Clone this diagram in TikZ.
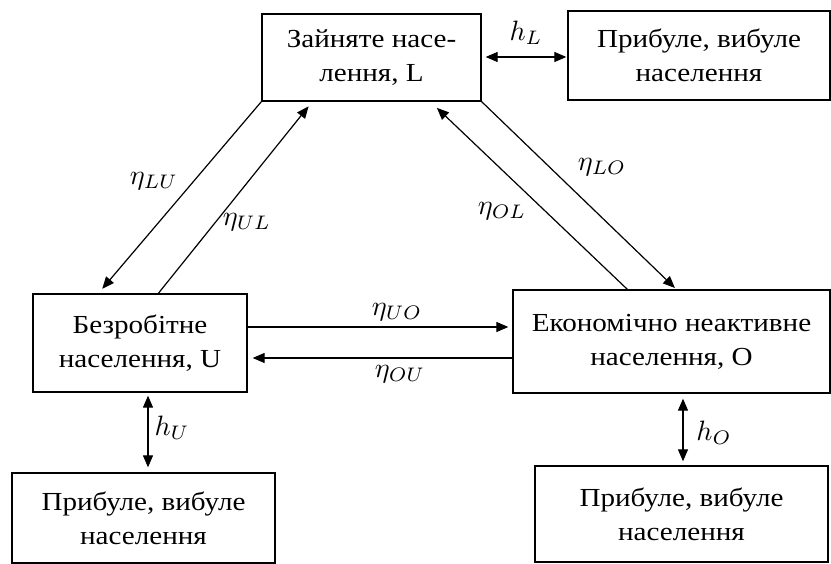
\documentclass[tikz,border=0pt]{standalone}
\usepackage{fontspec}
\setmainfont{Liberation Serif}[FakeStretch=1.12]
\usetikzlibrary{arrows.meta,calc}
\newcommand{\biglbl}[1]{\scalebox{2.8}{$#1$}}
\begin{document}
\begin{tikzpicture}[x=1pt,y=-1pt,
  box/.style={draw,line width=1.3pt,inner sep=0pt,align=center,font=\fontsize{26}{34}\selectfont},
  arr/.style={line width=1.2pt,-{Triangle[length=12pt,width=10pt]}},
  dbl/.style={line width=1.2pt,{Triangle[length=12pt,width=10pt]}-{Triangle[length=12pt,width=10pt]}},
  lbl/.style={inner sep=0pt}]
\useasboundingbox (0,0) rectangle (831,564);
% boxes
\node[box,minimum width=219pt,minimum height=87pt] (L) at (371.5,57.5) {Зайняте насе-\\лення, L};
\node[box,minimum width=262pt,minimum height=89pt] (RT) at (699,55.5) {Прибуле, вибуле\\населення};
\node[box,minimum width=214pt,minimum height=98pt] (U) at (140,343) {Безробітне\\населення, U};
\node[box,minimum width=317pt,minimum height=103pt] (O) at (671.5,341.5) {Економічно неактивне\\населення, O};
\node[box,minimum width=263pt,minimum height=90pt] (BL) at (143.5,518) {Прибуле, вибуле\\населення};
\node[box,minimum width=293pt,minimum height=96pt] (BR) at (681.5,514) {Прибуле, вибуле\\населення};
% diagonal connectors
\draw[arr,shorten >=6pt] (L.south west) -- ($(U.north west)+(66,0)$);
\draw[arr,shorten >=6pt] ($(U.north west)+(126,0)$) -- ($(L.south west)+(51,0)$);
\draw[arr,shorten >=2pt] (L.south east) -- ($(O.north west)+(164,0)$);
\draw[arr,shorten >=9pt] ($(O.north west)+(115,0)$) -- ($(L.south west)+(169,0)$);
% horizontal connectors
\draw[arr,shorten >=4pt] ($(U.east)+(0,-16)$) -- ($(O.west)+(0,-14.5)$);
\draw[arr,shorten >=5pt] ($(O.west)+(0,16.5)$) -- ($(U.east)+(0,15)$);
% exchange arrows
\draw[dbl,shorten <=4pt,shorten >=1pt] ($(L.east)+(0,-0.5)$) -- ($(RT.west)+(0,1.5)$);
\draw[dbl,shorten <=3pt,shorten >=5pt] ($(U.south)+(8,0)$) -- ($(BL.north)+(4.5,0)$);
\draw[dbl,shorten <=5pt,shorten >=4pt] ($(O.south)+(11.5,0)$) -- ($(BR.north)+(1.5,0)$);
% labels
\node[lbl] (lLU) at (154,181) {\biglbl{\eta_{LU}}};
\node[lbl] (lUL) at (247,222) {\biglbl{\eta_{UL}}};
\node[lbl] (lLO) at (602,167) {\biglbl{\eta_{LO}}};
\node[lbl] (lOL) at (502,211) {\biglbl{\eta_{OL}}};
\node[lbl] (lUO) at (397,312) {\biglbl{\eta_{UO}}};
\node[lbl] (lOU) at (400,374) {\biglbl{\eta_{OU}}};
\node[lbl] (lL) at (526,33) {\biglbl{h_L}};
\node[lbl] (lU) at (172,428) {\biglbl{h_U}};
\node[lbl] (lO) at (714,433) {\biglbl{h_O}};
\end{tikzpicture}
\end{document}
